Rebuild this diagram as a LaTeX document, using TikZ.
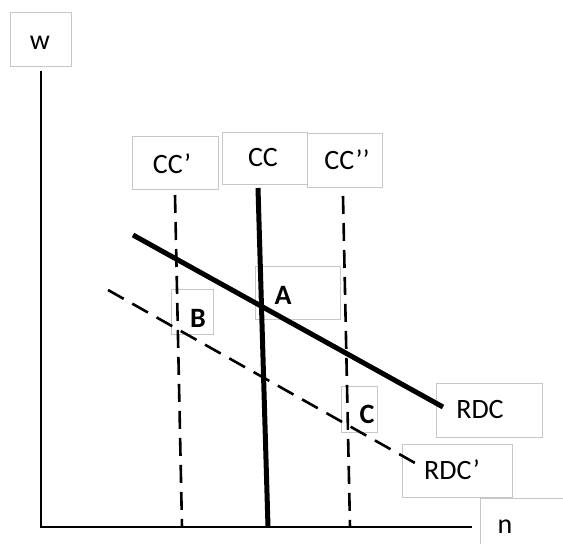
\documentclass[tikz,border=0pt]{standalone}
\usepackage{fontspec}
\setmainfont{Carlito}
\begin{document}
\begin{tikzpicture}[x=1pt,y=-1pt,
  lbox/.style={draw=black!22,line width=0.9pt,inner sep=0pt},
  lab/.style={font=\fontsize{28}{32}\selectfont,inner sep=0pt},
  blab/.style={font=\fontsize{28}{32}\selectfont\bfseries,inner sep=0pt},
  axis/.style={line width=2.2pt},
  thickline/.style={line width=5pt},
  dline/.style={line width=2.6pt,dash pattern=on 18pt off 9pt}]
\useasboundingbox (0,0) rectangle (563,544);
% boxes
\draw[lbox] (10,12) rectangle (71,66);
\draw[lbox] (480,498) rectangle (570,550);
\draw[lbox] (132,136) rectangle (218,189);
\draw[lbox] (222,132) rectangle (307,184);
\draw[lbox] (307,133) rectangle (382,187);
\draw[lbox] (255,266) rectangle (340,319);
\draw[lbox] (171,289) rectangle (213,334);
\draw[lbox] (341,386) rectangle (377,432);
\draw[lbox] (436,383) rectangle (542,437);
\draw[lbox] (402,444) rectangle (512,497);
% coordinates
\coordinate (o) at (41,527);
\coordinate (wtop) at (41,71);
\coordinate (nend) at (472,527);
\coordinate (cc1t) at (175,195);
\coordinate (cc1b) at (182,527);
\coordinate (cct) at (258,188);
\coordinate (ccb) at (268,527);
\coordinate (cc2t) at (343,196);
\coordinate (cc2b) at (350,527);
\coordinate (rdcs) at (133,235);
\coordinate (rdce) at (443,407);
\coordinate (rdc1s) at (108,290);
\coordinate (rdc1e) at (415,463);
% lines
\draw[axis] (wtop) -- (o) -- (nend);
\draw[dline] (cc1t) -- (cc1b);
\draw[dline] (cc2t) -- (cc2b);
\draw[dline,dash pattern=on 18pt off 9.85pt] (rdc1s) -- (rdc1e);
\draw[thickline] (cct) -- (ccb);
\draw[thickline] (rdcs) -- (rdce);
% labels
\node[lab] (w) at (40,43) {w};
\node[lab] (n) at (505,527) {n};
\node[lab] (cc1) at (172,164) {CC’};
\node[lab] (cc) at (263,158) {CC};
\node[lab] (cc2) at (347,160) {CC’’};
\node[blab] (A) at (283,295) {A};
\node[blab] (B) at (198,318) {B};
\node[blab] (C) at (367,414) {C};
\node[lab] (rdc) at (480,410) {RDC};
\node[lab] (rdc1) at (452,470) {RDC’};
\end{tikzpicture}
\end{document}
